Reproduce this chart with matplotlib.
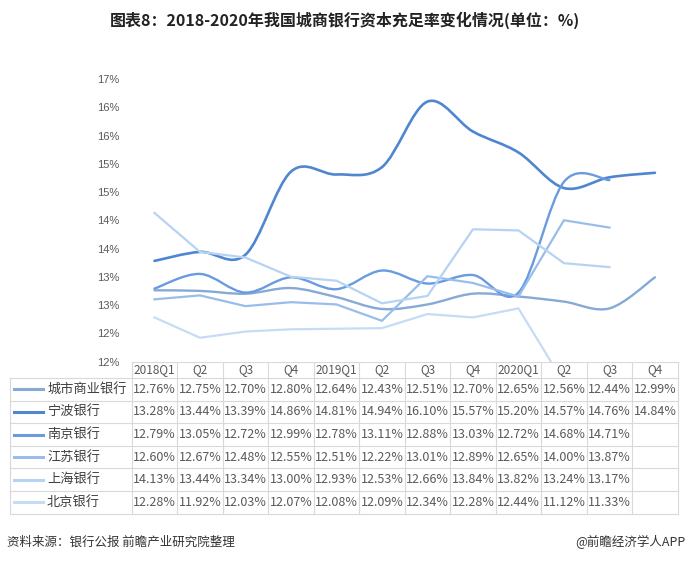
import matplotlib
matplotlib.use("Agg")
import matplotlib.pyplot as plt
from matplotlib.path import Path
from matplotlib.patches import PathPatch
import numpy as np

plt.rcParams['font.family'] = ['Noto Sans CJK SC', 'DejaVu Sans']

# ---- data ----
quarters = ['2018Q1', 'Q2', 'Q3', 'Q4', '2019Q1', 'Q2', 'Q3', 'Q4',
            '2020Q1', 'Q2', 'Q3', 'Q4']
banks = ['城市商业银行', '宁波银行', '南京银行', '江苏银行', '上海银行', '北京银行']
city_bank = [12.76, 12.75, 12.70, 12.80, 12.64, 12.43, 12.51, 12.70, 12.65, 12.56, 12.44, 12.99]
ningbo = [13.28, 13.44, 13.39, 14.86, 14.81, 14.94, 16.10, 15.57, 15.20, 14.57, 14.76, 14.84]
nanjing = [12.79, 13.05, 12.72, 12.99, 12.78, 13.11, 12.88, 13.03, 12.72, 14.68, 14.71]
jiangsu = [12.60, 12.67, 12.48, 12.55, 12.51, 12.22, 13.01, 12.89, 12.65, 14.00, 13.87]
shanghai = [14.13, 13.44, 13.34, 13.00, 12.93, 12.53, 12.66, 13.84, 13.82, 13.24, 13.17]
beijing = [12.28, 11.92, 12.03, 12.07, 12.08, 12.09, 12.34, 12.28, 12.44, 11.12, 11.33]
series = [city_bank, ningbo, nanjing, jiangsu, shanghai, beijing]

yticks = [11.5, 12, 12.5, 13, 13.5, 14, 14.5, 15, 15.5, 16, 16.5]
ytick_labels = ['12%', '12%', '13%', '13%', '14%', '14%', '15%', '15%', '16%', '16%', '17%']

colors = ['#86aad6', '#4f86d0', '#6a9be0', '#99bdeb', '#b6d3f4', '#c6dcf5']
widths = [1.7, 1.9, 1.7, 1.6, 1.6, 1.6]
smooth = [True, True, True, False, False, False]


def smooth_path(xs, ys):
    # Excel-like smoothed line: bezier segments through the points
    pts = np.column_stack([xs, ys])
    n = len(pts)
    verts = [pts[0]]
    codes = [Path.MOVETO]
    for i in range(n - 1):
        p0 = pts[i - 1] if i > 0 else pts[i]
        p1 = pts[i]
        p2 = pts[i + 1]
        p3 = pts[i + 2] if i + 2 < n else pts[i + 1]
        c1 = p1 + (p2 - p0) / 6.0
        c2 = p2 - (p3 - p1) / 6.0
        verts += [c1, c2, p2]
        codes += [Path.CURVE4] * 3
    return Path(verts, codes)


W, H = 690, 562
fig = plt.figure(figsize=(6.9, 5.62), dpi=100)

# geometry in pixels
col0 = 131.7
colw = 45.5
plot_top = 79
plot_bot = 361.5
tab_left = 10

ax = fig.add_axes([col0 / W, 1 - plot_bot / H, 12 * colw / W, (plot_bot - plot_top) / H])
for vals, c, lw, sm in zip(series, colors, widths, smooth):
    xs = np.arange(len(vals))
    if sm:
        ax.add_patch(PathPatch(smooth_path(xs, vals), fill=False, edgecolor=c,
                               lw=lw, capstyle='round', joinstyle='round'))
    else:
        ax.plot(xs, vals, color=c, lw=lw, solid_joinstyle='round')
ax.set_xlim(-0.5, 11.5)
ax.set_ylim(11.5, 16.5)
ax.set_yticks(yticks)
ax.set_yticklabels(ytick_labels, family='Liberation Sans', fontsize=8, color='#595959')
ax.set_xticks([])
ax.tick_params(axis='y', length=0, pad=9)
for s in ax.spines.values():
    s.set_visible(False)

# ---- data table ----
tx = fig.add_axes([0, 0, 1, 1], zorder=-1)
tx.set_xlim(0, W)
tx.set_ylim(H, 0)
tx.axis('off')
grid = '#d9d9d9'
head_top = 362
head_bot = 378
rowh = 22.6
tab_bot = head_bot + rowh * len(banks)
right = col0 + 12 * colw

tx.plot([col0, right], [head_top, head_top], color=grid, lw=0.8)
tx.plot([tab_left, tab_left], [head_bot, tab_bot], color=grid, lw=0.8)
for j in range(13):
    x = col0 + j * colw
    tx.plot([x, x], [head_top, tab_bot], color=grid, lw=0.8)
for r in range(len(banks) + 1):
    y = head_bot + r * rowh
    tx.plot([tab_left, right], [y, y], color=grid, lw=0.8)

for j, q in enumerate(quarters):
    tx.text(col0 + (j + 0.5) * colw, (head_top + head_bot) / 2, q, ha='center',
            va='center', fontsize=8.5, color='#595959')

for r, (name, vals, c) in enumerate(zip(banks, series, colors)):
    yc = head_bot + (r + 0.5) * rowh
    tx.plot([14, 43], [yc, yc], color=c, lw=2.2)
    tx.text(47, yc, name, ha='left', va='center', fontsize=9.5, color='#404040')
    for j, v in enumerate(vals):
        tx.text(col0 + (j + 0.5) * colw, yc, f'{v:.2f}%', ha='center', va='center',
                fontsize=9, color='#595959')

fig.text(0.5, 1 - 20 / H, '图表8：2018-2020年我国城商银行资本充足率变化情况(单位：%)',
         ha='center', va='center', fontsize=11.5, fontweight='bold', color='#222222')
fig.text(7 / W, 1 - 542 / H, '资料来源：银行公报 前瞻产业研究院整理', ha='left',
         va='center', fontsize=9, color='#333333')
fig.text(686 / W, 1 - 542 / H, '@前瞻经济学人APP', ha='right', va='center',
         fontsize=9, color='#333333')

fig.savefig('out.png', dpi=100)
